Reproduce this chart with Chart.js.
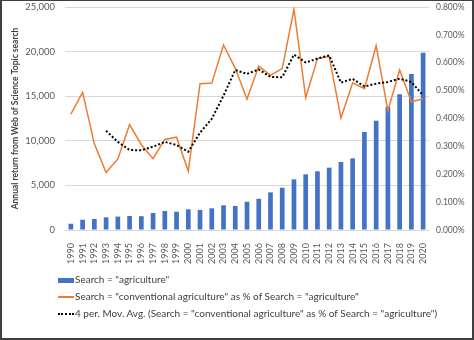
<!DOCTYPE html>
<html>
<head>
<meta charset="utf-8">
<script src="https://cdn.jsdelivr.net/npm/chart.js@4"></script>
<style>
  body { margin: 0; background: #fff; }
  #wrap { position: relative; width: 474px; height: 340px; font-family: Lato, sans-serif; }
  #wrap canvas { position: absolute; left: 0; top: 0; }
  #frame { position: absolute; left: 0; top: 0; width: 474px; height: 340px; box-sizing: border-box;
           border: 2px solid #3f3f3f; border-top-width: 1px; pointer-events: none; }
  .leg { position: absolute; left: 58px; font-size: 10px; color: #404040; white-space: nowrap; line-height: 12px; }
  .leg span.sym { display: inline-block; width: 16px; vertical-align: middle; margin-right: 1px; }
</style>
</head>
<body>
<div id="wrap">
  <canvas id="grafico" width="474" height="340"></canvas>
  <div id="legenda"></div>
  <div id="frame"></div>
</div>
<script>
// anos
const anos = ['1990','1991','1992','1993','1994','1995','1996','1997','1998','1999','2000',
  '2001','2002','2003','2004','2005','2006','2007','2008','2009','2010',
  '2011','2012','2013','2014','2015','2016','2017','2018','2019','2020'];

// Search = "agriculture" (registros por ano)
const agricultura = [700, 1150, 1230, 1420, 1500, 1570, 1550, 1900, 2130, 2050, 2320,
  2250, 2430, 2770, 2700, 3170, 3500, 4220, 4740, 5680, 6240,
  6580, 6990, 7620, 8030, 10990, 12250, 13820, 15210, 17490, 19880];

// "conventional agriculture" como % de "agriculture"
const convencionalPct = [0.416, 0.494, 0.309, 0.206, 0.255, 0.378, 0.306, 0.256, 0.325, 0.333, 0.211,
  0.525, 0.527, 0.664, 0.580, 0.470, 0.588, 0.555, 0.579, 0.792, 0.475,
  0.615, 0.622, 0.402, 0.528, 0.507, 0.661, 0.428, 0.574, 0.460, 0.471];

// media movel de 4 periodos
const mediaMovel = [null, null, null, 0.356, 0.316, 0.287, 0.286, 0.299, 0.316, 0.305, 0.281,
  0.349, 0.399, 0.482, 0.574, 0.560, 0.576, 0.549, 0.548, 0.629, 0.601,
  0.615, 0.626, 0.529, 0.542, 0.515, 0.525, 0.531, 0.543, 0.531, 0.483];

const legendas = [
  'Search = "agriculture"',
  'Search = "conventional agriculture" as % of Search = "agriculture"',
  '4 per. Mov. Avg. (Search = "conventional agriculture" as % of Search = "agriculture")'
];

const ticksEsquerda = [0, 5000, 10000, 15000, 20000, 25000];

Chart.defaults.font.family = 'Lato, sans-serif';
Chart.defaults.color = '#595959';

const ctx = document.getElementById('grafico').getContext('2d');

new Chart(ctx, {
  data: {
    labels: anos,
    datasets: [
      {
        type: 'bar',
        label: legendas[0],
        data: agricultura,
        backgroundColor: '#4472C4',
        barPercentage: 0.8,
        categoryPercentage: 0.5,
        yAxisID: 'y',
        order: 3
      },
      {
        type: 'line',
        label: legendas[1],
        data: convencionalPct,
        borderColor: '#ED7D31',
        borderWidth: 1.5,
        pointRadius: 0,
        tension: 0,
        yAxisID: 'y1',
        order: 2
      },
      {
        type: 'line',
        label: legendas[2],
        data: mediaMovel,
        borderColor: '#000000',
        borderWidth: 2,
        borderDash: [2, 2],
        pointRadius: 0,
        tension: 0,
        yAxisID: 'y1',
        order: 1
      }
    ]
  },
  options: {
    responsive: false,
    animation: false,
    layout: { padding: { top: 7, bottom: 70, left: 0, right: 0 } },
    plugins: {
      legend: { display: false },
      tooltip: { enabled: false }
    },
    scales: {
      x: {
        offset: true,
        grid: { display: false },
        border: { color: '#d9d9d9' },
        ticks: {
          minRotation: 90,
          maxRotation: 90,
          autoSkip: false,
          padding: 5,
          font: { size: 9 }
        },
        afterFit: s => { s.height = 40; }
      },
      y: {
        position: 'left',
        min: 0,
        max: 25000,
        afterBuildTicks: s => { s.ticks = ticksEsquerda.map(v => ({ value: v })); },
        // tick marks invisiveis so para afastar os rotulos
        grid: { color: '#d9d9d9', drawTicks: true, tickLength: 9, tickColor: 'rgba(0,0,0,0)' },
        border: { display: false },
        ticks: {
          padding: 1,
          font: { size: 9.5 },
          callback: v => v.toLocaleString('en-US')
        },
        title: {
          display: true,
          text: 'Annual return from Web of Science Topic search',
          color: '#404040',
          font: { size: 8.5, weight: 'bold' },
          padding: { top: 10, bottom: 0 }
        },
        afterFit: s => { s.width = 65; }
      },
      y1: {
        position: 'right',
        min: 0,
        max: 0.8,
        grid: { display: true, drawOnChartArea: false, drawTicks: true, tickLength: 7, tickColor: 'rgba(0,0,0,0)' },
        border: { display: false },
        ticks: {
          stepSize: 0.1,
          padding: 0,
          font: { size: 8.5 },
          callback: v => v.toFixed(3) + '%'
        },
        afterFit: s => { s.width = 45; }
      }
    }
  }
});

// legenda em HTML (uma linha por serie)
const legDiv = document.getElementById('legenda');
const simbolos = [
  '<span class="sym" style="height:5px;background:#4472C4"></span>',
  '<span class="sym" style="height:0;border-top:2px solid #ED7D31"></span>',
  '<span class="sym" style="height:0;border-top:2px dotted #000"></span>'
];
const posY = [273, 290, 307];
legendas.forEach((txt, i) => {
  const d = document.createElement('div');
  d.className = 'leg';
  d.style.top = posY[i] + 'px';
  d.innerHTML = simbolos[i];
  d.appendChild(document.createTextNode(txt));
  legDiv.appendChild(d);
});
</script>
</body>
</html>
